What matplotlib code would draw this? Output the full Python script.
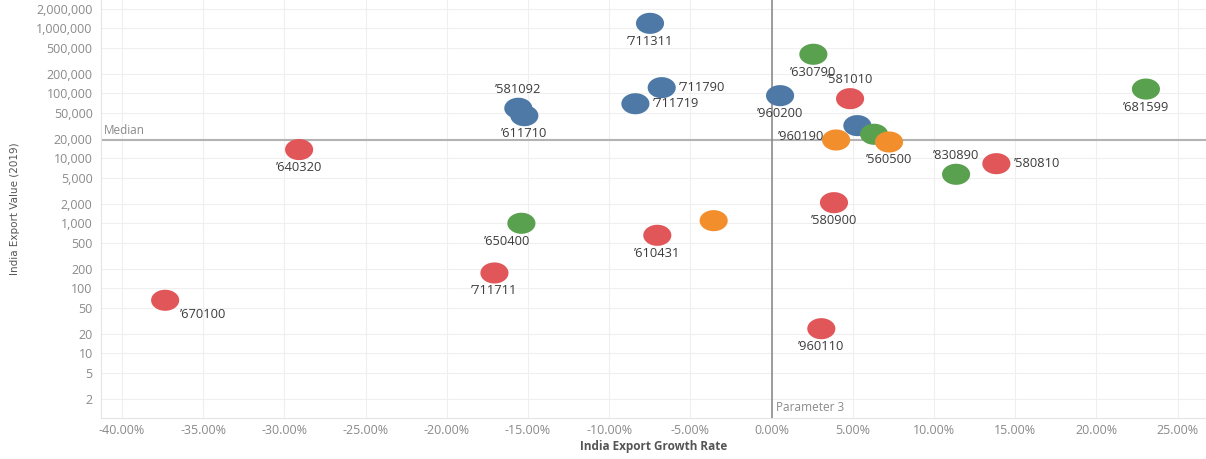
import numpy as np
import matplotlib
matplotlib.use("Agg")
import matplotlib.pyplot as plt
from matplotlib.path import Path
from matplotlib.ticker import FixedLocator, FuncFormatter

# ---- data ----
codes = ["711311", "711790", "711719", "581092", "611710", "960200", "blue_561",
         "640320", "670100", "711711", "610431", "581010", "580900", "960110", "580810",
         "630790", "green_63", "830890", "681599", "650400",
         "960190", "560500", "orange_m36"]
growth = [-7.49, -6.77, -8.39, -15.60, -15.23, 0.52, 5.28,
          -29.10, -37.35, -17.07, -7.04, 4.83, 3.84, 3.06, 13.84,
          2.57, 6.31, 11.36, 23.05, -15.41,
          3.97, 7.23, -3.57]
value = [1190000, 122000, 69000, 58800, 45200, 91900, 31800,
         13600, 65.4, 172, 653, 82600, 2075, 23.9, 8260,
         398000, 23400, 5670, 116000, 1000,
         19100, 17800, 1097]
group = ["blue"] * 7 + ["red"] * 8 + ["green"] * 5 + ["orange"] * 3
show_label = [True, True, True, True, True, True, False,
              True, True, True, True, True, True, True, True,
              True, False, True, True, True,
              True, True, False]
# label placement keys (see OFFS)
placement = ["below", "right", "right", "above", "below", "below", None,
             "below", "lowright", "below", "below", "above", "below", "below", "right",
             "below", None, "above", "below", "belowleft",
             "left", "below", None]
PARAM_3 = 0.0
y_ticks = [2, 5, 10, 20, 50, 100, 200, 500, 1000, 2000, 5000, 10000, 20000,
           50000, 100000, 200000, 500000, 1000000, 2000000]
x_ticks = [-40, -35, -30, -25, -20, -15, -10, -5, 0, 5, 10, 15, 20, 25]

COLORS = {"blue": "#4e79a7", "red": "#e15759", "green": "#59a14f", "orange": "#f28e2b"}
# offsets in pixels (dx, dy; dy positive = down) and alignment
OFFS = {"below": ((0, 18), "center", "center"),
        "above": ((0, -19), "center", "center"),
        "right": ((17, 0), "left", "center"),
        "left": ((-12, -3), "right", "center"),
        "lowright": ((15, 14), "left", "center"),
        "belowleft": ((-14, 18), "center", "center")}

plt.rcParams["font.family"] = ["Open Sans", "DejaVu Sans"]

fig = plt.figure(figsize=(12.06, 4.59), dpi=100)
ax = fig.add_axes([101 / 1206, 40.7 / 459, 1 - 101 / 1206, 418.3 / 459])
ax.set_yscale("log")
ax.set_xlim(-41.3, 26.75)
ax.set_ylim(1, 2.72e6)

# grid
ax.xaxis.set_major_locator(FixedLocator(x_ticks))
ax.yaxis.set_major_locator(FixedLocator(y_ticks))
ax.yaxis.set_minor_locator(FixedLocator([]))
ax.grid(True, color="#efefef", lw=0.8, zorder=0)
ax.set_axisbelow(True)
for s in ["top", "right"]:
    ax.spines[s].set_visible(False)
for s in ["left", "bottom"]:
    ax.spines[s].set_color("#e4e4e4")
    ax.spines[s].set_linewidth(0.8)

ax.xaxis.set_major_formatter(FuncFormatter(lambda v, p: f"{v:.2f}%"))
ax.yaxis.set_major_formatter(FuncFormatter(lambda v, p: f"{int(round(v)):,}"))
ax.tick_params(axis="both", length=0, labelsize=9, labelcolor="#8a8a8a")
ax.tick_params(axis="x", pad=4)
ax.tick_params(axis="y", pad=6)

# reference lines
median = np.median(value)
ax.axhline(median, color="#b3b3b3", lw=1.5, zorder=1)
ax.axvline(PARAM_3, color="#8c8c8c", lw=1.2, zorder=1)
ax.annotate("Median", (0, median), xycoords=("axes fraction", "data"),
            xytext=(2, 2), textcoords="offset points", fontsize=8.5,
            color="#8a8a8a", ha="left", va="bottom")
ax.annotate("Parameter 3", (PARAM_3, 0), xycoords=("data", "axes fraction"),
            xytext=(3, 3), textcoords="offset points", fontsize=8.5,
            color="#8a8a8a", ha="left", va="bottom")

# ellipse marker (Tableau circles stretched horizontally)
t = np.linspace(0, 2 * np.pi, 72)
ell = Path(np.column_stack([np.cos(t), 0.75 * np.sin(t)]), closed=True)

cols = [COLORS[g] for g in group]
ax.scatter(growth, value, s=410, marker=ell, c=cols, edgecolors="none", zorder=3)

for code, gx, gv, show, pl in zip(codes, growth, value, show_label, placement):
    if not show:
        continue
    (dx, dy), ha, va = OFFS[pl]
    ax.annotate("\u2019" + code, (gx, gv), xytext=(dx * 0.72, -dy * 0.72),
                textcoords="offset points", ha=ha, va=va, fontsize=9.3,
                color="#3c3c3c", zorder=4)

ax.set_xlabel("India Export Growth Rate", fontsize=8.5, fontweight="bold",
              color="#555555", labelpad=2)
ax.set_ylabel("India Export Value (2019)", fontsize=7.5, color="#555555",
              family=["Liberation Sans Narrow", "DejaVu Sans"], labelpad=12)

fig.savefig("out.png", dpi=100, facecolor="white")
